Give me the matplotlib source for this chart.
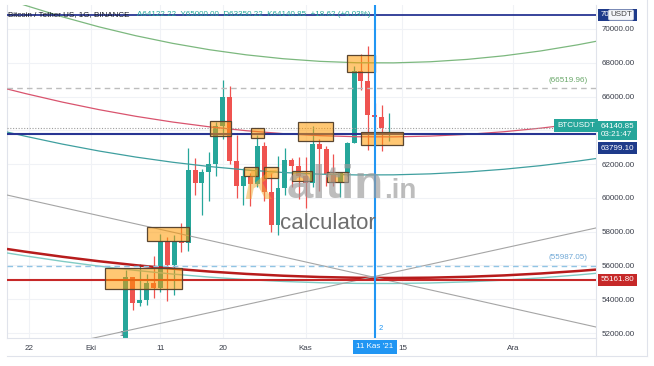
import matplotlib
matplotlib.use('Agg')
import matplotlib.pyplot as plt
from matplotlib.patches import Rectangle, PathPatch
from matplotlib.path import Path
from matplotlib.lines import Line2D
import numpy as np

plt.rcParams['font.family'] = ['Liberation Sans', 'DejaVu Sans']

# BTCUSDT daily candles, day 0 = 6 Eki 2021 ... day 38 = 13 Kas 2021
opens = [51486, 55339, 53802, 53967, 54968, 54659, 57471, 56006, 57370, 57347,
         61672, 60875, 61528, 62005, 64280, 66002, 62193, 60688, 61287, 60852,
         63078, 60329, 58413, 60575, 62253, 61859, 61300, 60911, 63220, 62896,
         61395, 60940, 61470, 63273, 67525, 66947, 64882, 64775, 64122.22]
highs = [55750, 55340, 56100, 55489, 56561, 57839, 57680, 57789, 58532, 62933,
         62350, 61720, 62695, 64486, 67000, 66639, 63732, 61747, 61500, 63710,
         63293, 61496, 62499, 62980, 62359, 62405, 62437, 64270, 63500, 63086,
         62595, 61560, 63286, 67789, 68524, 69000, 65600, 65473, 65000]
lows = [50382, 53357, 53617, 53661, 54100, 54415, 53879, 54253, 56818, 56850,
        60150, 58963, 59844, 61322, 63481, 62000, 60000, 59562, 59510, 60650,
        59817, 58000, 57820, 60174, 60673, 59945, 59405, 60624, 60382, 60677,
        60721, 60050, 61322, 63273, 66382, 62822, 64100, 62788, 63350.22]
closes = [55339, 53805, 53967, 54968, 54659, 57471, 56006, 57367, 57347, 61672,
          60875, 61528, 62009, 64280, 66001, 62194, 60688, 61286, 60852, 63078,
          60328, 58413, 60575, 62253, 61859, 61299, 60911, 63219, 62896, 61395,
          60937, 61470, 63273, 67525, 66947, 64882, 64774, 64122, 64140.85]
days = np.arange(len(opens))

# x axis labels (day offsets from 6 Eki)
tick_days = [-14, -5, 5, 14, 26, 40, 56]
tick_labels = ['22', 'Eki', '11', '20', 'Kas', '15', 'Ara']
price_ticks = list(range(52000, 70001, 2000))

# drawings: arcs as (start, control, end) in (day, price)
green_arc = [(-17.2, 71760), (25.4, 65790), (68.0, 69270)]
teal_arc = [(-17.2, 63900), (25.4, 59780), (68.0, 62330)]
pink_arc = [(-17.2, 66450), (25.4, 61975), (68.0, 64550)]
darkred_arc = [(-17.2, 56975), (25.4, 54335), (68.0, 55755)]
lightteal_arc = [(-17.2, 56740), (25.4, 53885), (68.0, 55535)]
fan_down = [(-17.2, 60170), (68.0, 52355)]
fan_up = [(-17.2, 50580), (68.0, 58220)]

navy_top = 70829.22
navy_level = 63799.10
red_level = 55161.80
dash_grey = 66519.96
dash_blue = 55987.05
last_price = 64140.85
countdown = '03:21:47'
cross_day = 36

# rectangles: (day from, day to, price low, price high)
boxes = [(-3.04, 8.10, 54605, 55849),
         (3.04, 9.12, 57447, 58277),
         (12.16, 15.20, 63665, 64553),
         (18.05, 20.02, 63528, 64120),
         (17.12, 19.15, 61296, 61811),
         (20.00, 22.04, 61160, 61811),
         (24.07, 26.87, 61018, 61592),
         (29.09, 32.13, 60941, 61533),
         (24.89, 29.96, 63368, 64493),
         (31.98, 36.03, 67454, 68461),
         (34.00, 40.09, 63132, 63901)]

W, H = 654, 366
fig = plt.figure(figsize=(W / 100, H / 100), dpi=100)
ax = fig.add_axes([7 / W, 28 / H, 589 / W, 333 / H])
ax.set_xlim(-17.2, 68.0)
ax.set_ylim(51705, 71420)


def px(x, y):
    return x / W, 1 - y / H


# grid
for d in tick_days:
    ax.axvline(d, color='#f0f2f6', lw=0.8, zorder=0)
for p in price_ticks:
    ax.axhline(p, color='#f0f2f6', lw=0.8, zorder=0)

# candles
o = np.array(opens)
c = np.array(closes)
col = np.where(c >= o, '#26a69a', '#ef5350')
ax.vlines(days, lows, highs, colors=col, lw=0.9, zorder=2)
ax.bar(days, np.maximum(np.abs(c - o), 40), bottom=np.minimum(o, c),
       width=0.72, color=col, zorder=2)


def arc(pts, color, lw):
    path = Path(pts, [Path.MOVETO, Path.CURVE3, Path.CURVE3])
    ax.add_patch(PathPatch(path, fill=False, ec=color, lw=lw, zorder=3))


arc(green_arc, '#7cb87e', 0.9)
arc(teal_arc, '#3f9f9f', 0.9)
arc(pink_arc, '#d9546e', 0.9)
arc(lightteal_arc, '#80cbc4', 1.0)
arc(darkred_arc, '#b71c1c', 1.8)

for line in (fan_down, fan_up):
    xs, ys = zip(*line)
    ax.plot(xs, ys, color='#a5a5a5', lw=0.8, zorder=3)

ax.axhline(navy_top, color='#283593', lw=1.3, zorder=3)
ax.axhline(navy_level, color='#283593', lw=1.5, zorder=3)
ax.axhline(red_level, color='#c62828', lw=1.5, zorder=3)
ax.axhline(dash_grey, color='#bdbdbd', lw=1, ls=(0, (4, 3)), zorder=3)
ax.axhline(dash_blue, color='#90c4e4', lw=1, ls=(0, (4, 3)), zorder=3)
ax.axhline(last_price, color='#9e9e9e', lw=0.8, ls=(0, (1, 1.5)), zorder=3)

for d0, d1, lo, hi in boxes:
    ax.add_patch(Rectangle((d0, lo), d1 - d0, hi - lo, fc=(1, 0.6, 0, 0.55),
                           ec='#5a4630', lw=0.9, zorder=4))

ax.axvline(cross_day, color='#2196f3', lw=1.5, zorder=5)

# in-plot labels
ax.text(66.8, dash_grey + 250, '(66519.96)', color='#6aa86a', fontsize=5.8,
        ha='right', va='bottom', zorder=6)
ax.text(66.8, dash_blue + 250, '(55987.05)', color='#6fa8d6', fontsize=5.8,
        ha='right', va='bottom', zorder=6)
ax.text(cross_day + 0.6, 52150, '2', color='#2196f3', fontsize=5.5, zorder=6)
ax.text(-1.0, 51800, '1', color='#5a6a7a', fontsize=5.5, zorder=6)
yt = ax.get_yaxis_transform()
ax.text(0.998, last_price + 150, 'BTCUSDT', transform=yt, ha='right', va='center',
        color='white', fontsize=5.8, zorder=8,
        bbox=dict(boxstyle='square,pad=0.35', fc='#26a69a', ec='none'))

# right axis price tags
tag = dict(transform=yt, ha='left', va='center', color='white', fontsize=5.8,
           clip_on=False, zorder=10)
ax.text(1.008, last_price - 150, '%.2f\n%s' % (last_price, countdown),
        bbox=dict(boxstyle='square,pad=0.3', fc='#26a69a', ec='none'),
        linespacing=1.05, **tag)
ax.annotate('%.2f' % navy_level, xy=(1.008, navy_level), xycoords=yt,
            xytext=(0, -10.5), textcoords='offset points', ha='left', va='center',
            color='white', fontsize=5.8, annotation_clip=False, zorder=10,
            bbox=dict(boxstyle='square,pad=0.3', fc='#1e3a8a', ec='none'))
ax.text(1.008, red_level, '%.2f' % red_level,
        bbox=dict(boxstyle='square,pad=0.3', fc='#c62828', ec='none'), **tag)
ax.text(1.008, navy_top, '%.2f' % navy_top,
        bbox=dict(boxstyle='square,pad=0.3', fc='#1e3a8a', ec='none'), **tag)
fig.text(*px(621, 15), 'USDT', ha='center', va='center', fontsize=5.8,
         color='#444444', zorder=11,
         bbox=dict(boxstyle='round,pad=0.2', fc='#f4f6fa', ec='#d0d4dc', lw=0.5))

# axes styling
ax.yaxis.tick_right()
ax.set_yticks(price_ticks)
ax.set_yticklabels(['%.2f' % p for p in price_ticks])
ax.set_xticks(tick_days)
ax.set_xticklabels(tick_labels)
ax.tick_params(axis='both', length=0, labelsize=5.8, labelcolor='#3a3e4a')
ax.tick_params(axis='y', pad=4)
ax.tick_params(axis='x', pad=5)
for s in ax.spines.values():
    s.set_color('#e0e3eb')
    s.set_linewidth(0.8)
ax.spines['top'].set_visible(False)

ax.text(cross_day, -0.027, "11 Kas '21", transform=ax.get_xaxis_transform(),
        ha='center', va='center', color='white', fontsize=5.8, clip_on=False,
        zorder=10, bbox=dict(boxstyle='square,pad=0.45', fc='#2196f3', ec='none'))

fig.add_artist(Line2D([647 / W] * 2, [1 - 356 / H, 1], color='#e0e3eb', lw=0.8))
fig.add_artist(Line2D([596 / W] * 2, [1 - 356 / H, 1 - 338 / H], color='#e0e3eb', lw=0.8))
fig.add_artist(Line2D([7 / W, 647 / W], [1 - 356 / H] * 2, color='#e0e3eb', lw=0.8))

# header
fig.text(*px(8, 15), 'Bitcoin / Tether US, 1G, BINANCE', fontsize=5.8,
         color='#131722', va='center')
fig.text(*px(137, 15), 'A64122.22  Y65000.00  D63350.22  K64140.85  +18.62 (+0.03%)',
         fontsize=5.8, color='#26a69a', va='center')

# watermark
fig.text(*px(244, 199), 'K', fontsize=30, weight='bold', style='italic',
         color='#f0a830', alpha=0.5, zorder=12)
fig.text(*px(287, 198), 'altin', fontsize=34, weight='bold',
         color='#9a9a9a', alpha=0.65, zorder=12)
fig.text(*px(384, 198), '.in', fontsize=20, weight='bold',
         color='#9a9a9a', alpha=0.65, zorder=12)
fig.text(*px(280, 229), 'calculator', fontsize=16, color='#6e6e6e', zorder=12)

fig.savefig('out.png', dpi=100)
